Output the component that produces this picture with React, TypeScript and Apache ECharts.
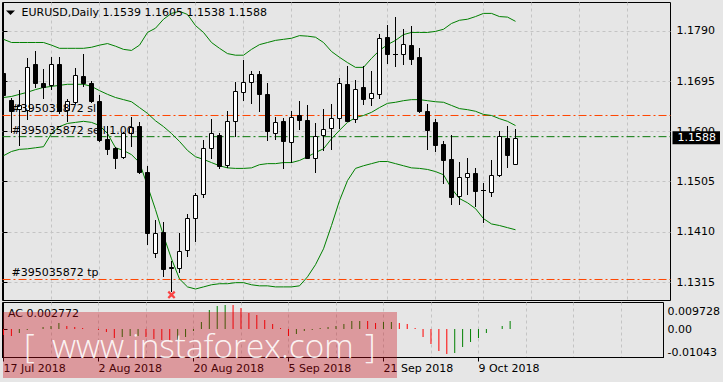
import React, { useEffect, useRef } from 'react';
import * as echarts from 'echarts';

const SYMBOL_TITLE = 'EURUSD,Daily';

const OPEN = [1.1710,1.1660,1.1643,1.1641,1.1727,1.1692,1.1687,1.1727,1.1641,1.1656,
1.1704,1.1691,1.1658,1.1585,1.1569,1.1552,1.1596,1.1611,1.1524,1.1370,
1.1410,1.1343,1.1342,1.1376,1.1437,1.1482,1.1569,1.1594,1.1537,1.1619,
1.1675,1.1694,1.1708,1.1670,1.1596,1.1620,1.1579,1.1630,1.1622,1.1549,
1.1594,1.1607,1.1626,1.1689,1.1624,1.1683,1.1664,1.1670,1.1778,1.1747,
1.1747,1.1764,1.1740,1.1639,1.1617,1.1577,1.1547,1.1477,1.1513,1.1522,
1.1490,1.1486,1.1518,1.1588,1.1539];
const HIGH = [1.1747,1.1664,1.1679,1.1738,1.1751,1.1717,1.1740,1.1740,1.1662,1.1719,
1.1746,1.1696,1.1668,1.1611,1.1571,1.1598,1.1628,1.1617,1.1535,1.1433,
1.1429,1.1355,1.1408,1.1444,1.1484,1.1583,1.1624,1.1596,1.1639,1.1694,
1.1734,1.1715,1.1715,1.1691,1.1628,1.1626,1.1639,1.1658,1.1649,1.1615,
1.1643,1.1651,1.1700,1.1723,1.1698,1.1723,1.1715,1.1785,1.1802,1.1816,
1.1793,1.1799,1.1757,1.1651,1.1624,1.1581,1.1594,1.1543,1.1550,1.1530,
1.1503,1.1545,1.1600,1.1611,1.1605];
const LOW = [1.1653,1.1598,1.1575,1.1624,1.1683,1.1664,1.1681,1.1634,1.1620,1.1653,
1.1685,1.1655,1.1581,1.1558,1.1530,1.1550,1.1573,1.1522,1.1388,1.1363,
1.1327,1.1299,1.1335,1.1365,1.1393,1.1475,1.1550,1.1530,1.1533,1.1592,
1.1660,1.1653,1.1639,1.1583,1.1586,1.1530,1.1543,1.1605,1.1549,1.1524,
1.1564,1.1567,1.1607,1.1619,1.1617,1.1651,1.1649,1.1664,1.1730,1.1723,
1.1728,1.1727,1.1636,1.1567,1.1562,1.1503,1.1463,1.1463,1.1482,1.1458,
1.1429,1.1478,1.1516,1.1532,1.1538];
const CLOSE = [1.1668,1.1639,1.1649,1.1721,1.1691,1.1683,1.1728,1.1639,1.1658,1.1706,
1.1691,1.1658,1.1583,1.1567,1.1550,1.1596,1.1609,1.1524,1.1408,1.1408,
1.1340,1.1342,1.1374,1.1437,1.1480,1.1569,1.1596,1.1535,1.1620,1.1677,
1.1694,1.1708,1.1670,1.1600,1.1617,1.1581,1.1628,1.1622,1.1550,1.1592,
1.1605,1.1626,1.1691,1.1620,1.1681,1.1662,1.1672,1.1776,1.1747,1.1746,
1.1766,1.1736,1.1638,1.1602,1.1575,1.1545,1.1475,1.1513,1.1522,1.1488,
1.1489,1.1518,1.1592,1.1556,1.1588];

const BB_UPPER = [1.1774,1.1768,1.1768,1.1768,1.1768,1.1768,1.1763,1.1757,1.1757,1.1757,
1.1757,1.1759,1.1763,1.1766,1.1761,1.1755,1.1753,1.1763,1.1787,1.1795,
1.1812,1.1823,1.1827,1.1821,1.1800,1.1787,1.1768,1.1757,1.1747,1.1744,
1.1744,1.1755,1.1764,1.1768,1.1772,1.1774,1.1776,1.1781,1.1780,1.1778,
1.1768,1.1751,1.1740,1.1730,1.1721,1.1721,1.1738,1.1753,1.1764,1.1772,
1.1783,1.1787,1.1787,1.1787,1.1789,1.1793,1.1804,1.1810,1.1812,1.1817,
1.1823,1.1823,1.1817,1.1816,1.1808];
const BB_MIDDLE = [1.1664,1.1666,1.1670,1.1674,1.1679,1.1683,1.1685,1.1687,1.1689,1.1689,
1.1689,1.1685,1.1677,1.1670,1.1664,1.1660,1.1656,1.1645,1.1634,1.1620,
1.1609,1.1596,1.1581,1.1564,1.1552,1.1547,1.1541,1.1535,1.1531,1.1530,
1.1530,1.1531,1.1537,1.1539,1.1539,1.1541,1.1541,1.1545,1.1552,1.1560,
1.1567,1.1586,1.1602,1.1617,1.1626,1.1630,1.1636,1.1645,1.1653,1.1655,
1.1658,1.1660,1.1660,1.1658,1.1656,1.1655,1.1649,1.1643,1.1641,1.1638,
1.1632,1.1630,1.1624,1.1619,1.1611];
const BB_LOWER = [1.1554,1.1562,1.1566,1.1567,1.1569,1.1571,1.1596,1.1609,1.1615,1.1617,
1.1619,1.1617,1.1611,1.1596,1.1569,1.1564,1.1556,1.1541,1.1497,1.1452,
1.1403,1.1359,1.1321,1.1306,1.1302,1.1306,1.1310,1.1312,1.1312,1.1314,
1.1314,1.1310,1.1308,1.1308,1.1306,1.1306,1.1306,1.1308,1.1325,1.1348,
1.1378,1.1422,1.1469,1.1507,1.1530,1.1535,1.1539,1.1543,1.1543,1.1539,
1.1535,1.1531,1.1530,1.1528,1.1524,1.1518,1.1492,1.1473,1.1465,1.1454,
1.1435,1.1425,1.1422,1.1418,1.1414];

const AC_VALUES = [-0.0021,-0.0025,-0.0016,-0.0002,0.0001,0.0006,0.0012,0.0021,0.0012,0.0006,
0.0005,0.0001,-0.0003,-0.0012,-0.0031,-0.0028,-0.0026,-0.0024,-0.0030,-0.0036,
-0.0040,-0.0044,-0.0042,-0.0030,-0.0008,0.0026,0.0070,0.0083,0.0089,0.0088,
0.0077,0.0057,0.0051,0.0034,0.0017,0.0003,-0.0026,-0.0019,-0.0009,-0.0002,
0.0002,0.0006,0.0010,0.0017,0.0028,0.0031,0.0029,0.0021,0.0024,0.0025,
0.0021,0.0020,0.0002,-0.0028,-0.0055,-0.0080,-0.0092,-0.0086,-0.0067,-0.0049,
-0.0031,-0.0016,-0.0001,0.0010,0.002772];

const PRICE_TICKS = [1.1315, 1.1410, 1.1505, 1.1600, 1.1695, 1.1790];
const AC_TICKS = [-0.01043, 0, 0.009728];
const AC_TICK_LABELS = ['-0.01043', '0.00', '0.009728'];
const DATE_INDEX = [0, 12, 24, 36, 48, 60];
const DATE_LABELS = ['17 Jul 2018', '2 Aug 2018', '20 Aug 2018', '5 Sep 2018', '21 Sep 2018', '9 Oct 2018'];
const GRID_STEPS = [0, 6, 12, 18, 24, 30, 36, 42, 48, 54, 60, 66, 72, 78];
const ORDER_PRICES = [1.1630, 1.1590, 1.1320];
const ORDER_LABELS = ['#395035872 sl', '#395035872 sell 1.00', '#395035872 tp'];
const ORDER_KIND = ['stop', 'entry', 'stop'];
const CLOSE_MARK = [21, 1.1291];
const WATERMARK = ['[', 'www.instaforex.com', ']'];

const FONT = '"DejaVu Sans", Verdana, sans-serif';
const WM_FONT = '300 33.3px "Open Sans", sans-serif';
const GRID_LINE = { type: [3, 3], color: '#c4c4c4', width: 1 };
const X_MIN = -0.125;
const X_MAX = 83.375;
const Y_MIN = 1.128028;
const Y_MAX = 1.184361;

export default function App() {
  const ref = useRef<HTMLDivElement>(null);
  useEffect(() => {
    document.body.style.margin = '0';
    const chart = echarts.init(ref.current!, undefined, { renderer: 'svg' });
    const n = CLOSE.length;
    const last = n - 1;
    const candles = CLOSE.map((c, i) => [i, OPEN[i], c, LOW[i], HIGH[i]]);
    const line = (arr: number[]) => arr.map((v, i) => [i, v]);
    const acData = AC_VALUES.map((v, i) => [i, v]);

    const orderSeries = ORDER_PRICES.map((p, k) => ({
      type: 'line', xAxisIndex: 0, yAxisIndex: 0, z: 2, silent: true,
      data: [[X_MIN, p], [X_MAX, p]], showSymbol: false, symbol: 'none',
      lineStyle: { color: ORDER_KIND[k] === 'entry' ? '#0a7a0a' : '#ff4500', type: [8, 3, 2, 3], width: 1 },
      markLine: {
        silent: true, symbol: ['none', 'none'], animation: false, precision: 5,
        data: [{
          yAxis: p,
          lineStyle: { color: 'transparent', width: 0 },
          label: {
            show: true, position: 'insideStartTop', formatter: ORDER_LABELS[k], distance: [9, 1],
            color: '#000', fontFamily: FONT, fontSize: 11,
          },
        }],
      },
    }));

    const option: any = {
      animation: false,
      backgroundColor: '#e6e6e6',
      textStyle: { fontFamily: FONT, fontSize: 11, color: '#000' },
      grid: [
        { left: 2.5, right: 52.5, top: 2.5, bottom: 81.5, show: true, borderColor: '#000', borderWidth: 1, backgroundColor: 'transparent' },
        { left: 2.5, right: 52.5, top: 302.5, bottom: 24.5, show: true, borderColor: '#000', borderWidth: 1, backgroundColor: 'transparent' },
      ],
      xAxis: [
        {
          type: 'value', gridIndex: 0, min: X_MIN, max: X_MAX,
          axisLine: { show: false }, axisTick: { show: false, customValues: GRID_STEPS },
          axisLabel: { show: false }, splitLine: { show: true, lineStyle: GRID_LINE },
        },
        {
          type: 'value', gridIndex: 1, min: X_MIN, max: X_MAX,
          axisLine: { show: true, onZero: false, lineStyle: { color: '#000', width: 1 } },
          axisTick: { show: true, length: 4, customValues: DATE_INDEX, lineStyle: { color: '#000' } },
          axisLabel: {
            customValues: DATE_INDEX, align: 'left', margin: 5, color: '#000', fontFamily: FONT, fontSize: 11,
            formatter: (v: number) => { const k = DATE_INDEX.indexOf(Math.round(v)); return k >= 0 ? DATE_LABELS[k] : ''; },
          },
          splitLine: { show: false },
        },
        {
          type: 'value', gridIndex: 1, min: X_MIN, max: X_MAX,
          axisLine: { show: false }, axisTick: { show: false, customValues: GRID_STEPS },
          axisLabel: { show: false }, splitLine: { show: true, lineStyle: GRID_LINE },
        },
      ],
      yAxis: [
        {
          type: 'value', gridIndex: 0, position: 'right', min: Y_MIN, max: Y_MAX,
          axisLine: { show: true, lineStyle: { color: '#000', width: 1 } },
          axisTick: { show: true, length: 4, customValues: PRICE_TICKS, lineStyle: { color: '#000' } },
          axisLabel: { customValues: PRICE_TICKS, margin: 6, color: '#000', fontFamily: FONT, fontSize: 11, formatter: (v: number) => v.toFixed(4) },
          splitLine: { show: true, lineStyle: GRID_LINE },
        },
        {
          type: 'value', gridIndex: 1, position: 'right', min: AC_TICKS[0], max: AC_TICKS[2],
          axisLine: { show: true, lineStyle: { color: '#000', width: 1 } },
          axisTick: { show: true, length: 4, customValues: AC_TICKS, lineStyle: { color: '#000' } },
          axisLabel: {
            customValues: AC_TICKS, margin: 4, color: '#000', fontFamily: FONT, fontSize: 11,
            showMinLabel: true, showMaxLabel: true, padding: [3, 0, 0, 0],
            verticalAlignMinLabel: 'bottom', verticalAlignMaxLabel: 'top',
            formatter: (v: number) => { const k = AC_TICKS.findIndex((t) => Math.abs(t - v) < 1e-9); return k >= 0 ? AC_TICK_LABELS[k] : ''; },
          },
          splitLine: { show: false },
        },
      ],
      series: [
        ...orderSeries,
        {
          type: 'custom', name: 'candles', xAxisIndex: 0, yAxisIndex: 0, clip: true, z: 3,
          encode: { x: 0, y: [1, 2, 3, 4] },
          data: candles,
          renderItem: (params: any, api: any) => {
            const i = api.value(0), o = api.value(1), c = api.value(2), l = api.value(3), h = api.value(4);
            const x = api.coord([i, o])[0];
            const yo = api.coord([i, o])[1], yc = api.coord([i, c])[1];
            const yl = api.coord([i, l])[1], yh = api.coord([i, h])[1];
            const top = Math.round(Math.min(yo, yc)) + 0.5;
            const bot = Math.round(Math.max(yo, yc)) + 0.5;
            const children: any[] = [
              { type: 'line', shape: { x1: x, y1: Math.round(yh), x2: x, y2: Math.round(yl) + 1 }, style: { stroke: '#000', lineWidth: 1 } },
            ];
            if (bot - top < 1) {
              children.push({ type: 'line', shape: { x1: x - 2.5, y1: top, x2: x + 2.5, y2: top }, style: { stroke: '#000', lineWidth: 1 } });
            } else {
              children.push({ type: 'rect', shape: { x: x - 2, y: top, width: 4, height: bot - top }, style: { fill: c >= o ? '#fff' : '#000', stroke: '#000', lineWidth: 1 } });
            }
            return { type: 'group', children };
          },
        },
        ...[BB_UPPER, BB_MIDDLE, BB_LOWER].map((arr) => ({
          type: 'line', xAxisIndex: 0, yAxisIndex: 0, data: line(arr), showSymbol: false, symbol: 'none',
          lineStyle: { color: '#008000', width: 1 }, z: 2, clip: true,
        })),
        {
          type: 'scatter', xAxisIndex: 0, yAxisIndex: 0, z: 4,
          data: [CLOSE_MARK],
          symbol: 'path://M0,2L2,0L5,3L8,0L10,2L7,5L10,8L8,10L5,7L2,10L0,8L3,5Z',
          symbolSize: 8, itemStyle: { color: '#ff1a1a' },
          markLine: {
            silent: true, symbol: ['none', 'none'], animation: false, precision: 5,
            data: [
              {
                yAxis: CLOSE[last],
                lineStyle: { color: 'transparent', width: 0 },
                label: {
                  show: true, position: 'end', distance: 2, formatter: CLOSE[last].toFixed(4),
                  color: '#fff', backgroundColor: '#000', padding: [1, 4, 0, 5], lineHeight: 12,
                  fontFamily: FONT, fontSize: 11,
                },
              },
            ],
          },
        },
        {
          type: 'custom', name: 'AC', xAxisIndex: 1, yAxisIndex: 1, clip: true, z: 3,
          encode: { x: 0, y: 1 },
          data: acData,
          renderItem: (params: any, api: any) => {
            const i = api.value(0), v = api.value(1);
            const p0 = api.coord([i, 0]);
            const p1 = api.coord([i, v]);
            const prev = params.dataIndex > 0 ? AC_VALUES[params.dataIndex - 1] : Infinity;
            const color = v > prev ? '#008000' : '#ff0000';
            return { type: 'line', shape: { x1: p0[0], y1: Math.round(p0[1]), x2: p1[0], y2: Math.round(p1[1]) }, style: { stroke: color, lineWidth: 1 } };
          },
        },
      ],
      graphic: [
        { type: 'polygon', shape: { points: [[6, 10.5], [15, 10.5], [10.5, 15]] }, style: { fill: '#000' }, z: 10 },
        { type: 'text', x: 21.5, y: 12.5, z: 10, style: { text: SYMBOL_TITLE, fill: '#000', font: `11px ${FONT}`, verticalAlign: 'middle' } },
        {
          type: 'text', x: 102.5, y: 12.5, z: 10,
          style: { text: [OPEN[last], HIGH[last], LOW[last], CLOSE[last]].map((v) => v.toFixed(4)).join(' '), fill: '#000', font: `11px ${FONT}`, verticalAlign: 'middle' },
        },
        { type: 'text', x: 8, y: 313, z: 10, style: { text: `AC ${AC_VALUES[last].toFixed(6)}`, fill: '#000', font: `11px ${FONT}`, verticalAlign: 'middle' } },
        { type: 'rect', z: 100, shape: { x: 3, y: 312, width: 394, height: 66 }, style: { fill: 'rgba(200,10,20,0.35)' } },
        { type: 'text', x: 24, y: 345, z: 101, style: { text: WATERMARK[0], fill: 'rgba(255,255,255,0.9)', font: WM_FONT, verticalAlign: 'middle' } },
        { type: 'text', x: 52, y: 345, z: 101, style: { text: WATERMARK[1], fill: 'rgba(255,255,255,0.9)', font: WM_FONT, verticalAlign: 'middle' } },
        { type: 'text', x: 365, y: 345, z: 101, style: { text: WATERMARK[2], fill: 'rgba(255,255,255,0.9)', font: WM_FONT, verticalAlign: 'middle' } },
      ],
    };
    chart.setOption(option);
    return () => chart.dispose();
  }, []);
  return <div ref={ref} style={{ position: 'fixed', left: 0, top: 0, width: 723, height: 382 }} />;
}
